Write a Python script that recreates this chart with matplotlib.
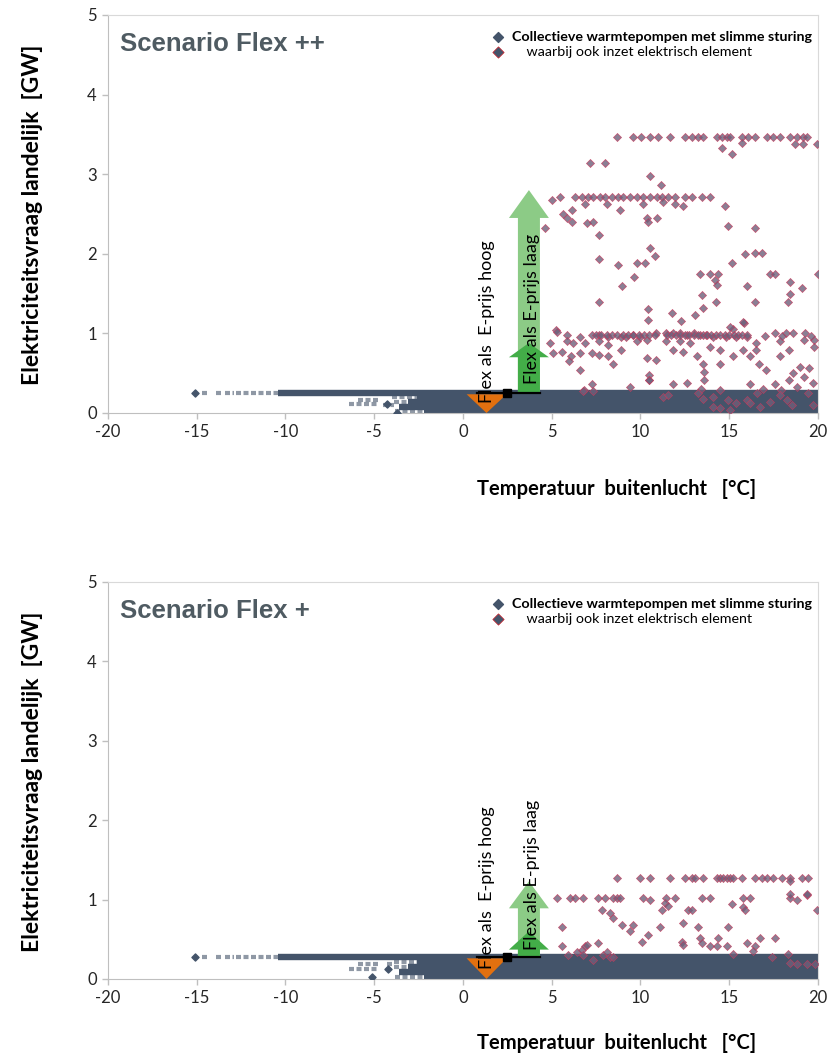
import matplotlib.pyplot as plt
import matplotlib.patches as mpatches
import numpy as np

plt.rcParams['font.family'] = ['Lato', 'DejaVu Sans']

BLUE = '#44546A'

# ---------------- data ----------------
# scenario Flex ++ : points where the electric element is also used
flexpp_red_x = [8.66, 9.58, 10.05, 10.53, 10.99, 11.66, 12.51, 12.88, 13.26, 13.54, 14.29, 14.57,
                14.86, 15.04, 15.70, 16.07, 16.45, 17.11, 17.48, 17.86, 18.42, 18.80, 19.17, 19.36,
                15.70, 18.70, 19.17, 19.93, 14.57, 15.14, 7.15, 8.0, 10.54, 11.14,
                5.0, 5.46, 6.31, 6.69, 7.06, 7.34, 7.72, 8.0, 8.38, 8.75, 9.03, 9.41, 9.79, 10.16,
                10.54, 10.92, 11.19, 11.57, 11.94, 12.51, 12.88, 13.45, 13.92,
                14.76, 6.87, 8.1, 10.16, 11.94, 11.28, 12.41, 8.85,
                5.65, 6.12, 5.85, 6.12, 4.62, 6.97, 7.34, 7.68, 10.35, 10.44, 10.91, 14.95, 16.45,
                10.54, 7.68, 8.75, 9.79, 10.25, 10.85, 9.65, 8.94, 7.68,
                15.14, 15.89, 16.45, 16.83, 13.35, 13.95, 14.38, 14.2, 14.29, 17.3, 17.58, 20.0,
                18.42, 15.98, 19.08, 13.48, 18.42, 18.33, 14.25, 16.45,
                13.54, 10.44, 10.44, 11.76, 13.07, 12.26, 15.83, 15.23, 5.24,
                4.9, 5.28, 5.84, 5.84, 5.56, 5.1, 6.2, 6.59, 6.1, 6.0, 6.59, 6.59, 6.9, 7.3, 7.65,
                7.65, 7.3, 7.65, 8.2, 8.2, 8.2, 8.47, 8.9, 8.9, 9.2, 9.6, 9.8, 10.0, 10.35, 10.35,
                10.5, 10.5, 10.9, 10.9, 11.47, 11.47, 11.85, 11.85, 12.23, 12.23, 12.4, 12.6, 12.8,
                13.0, 13.17, 13.36, 13.55, 13.6, 13.6, 13.7, 13.9, 14.1, 14.5, 14.5, 14.85, 15.04,
                15.2, 15.4, 15.8, 15.8, 15.98, 16.2, 16.5, 16.5, 16.7, 17.1, 17.6, 17.6, 17.86,
                17.86, 18.2, 18.4, 18.6, 18.6, 19.0, 19.2, 19.3, 19.5, 19.8, 19.8,
                7.5, 7.8, 8.1, 8.4, 8.7, 9.0, 9.3, 9.6, 9.9, 10.2, 10.5, 10.8,
                11.5, 11.75, 12.0, 12.25, 12.5, 12.75, 13.0, 13.25, 13.5, 13.75, 14.0, 14.25,
                14.5, 14.75, 15.0, 15.25, 15.5, 15.75, 16.0, 17.0, 18.0, 19.6,
                6.8, 7.3, 9.4, 10.5, 11.3, 11.85, 12.6, 13.4, 14.1, 14.5, 15.4, 16.2, 16.9, 17.9,
                18.4, 18.8, 19.2, 19.7,
                6.78, 7.34, 11.57, 13.26, 13.54, 14.1, 14.48, 14.95, 15.04, 15.98, 16.17, 16.55,
                16.73, 17.3, 17.86, 18.24, 18.52, 19.45, 19.74]
flexpp_red_y = [3.47, 3.47, 3.47, 3.47, 3.47, 3.47, 3.47, 3.47, 3.47, 3.47, 3.47, 3.47,
                3.47, 3.47, 3.47, 3.47, 3.47, 3.47, 3.47, 3.47, 3.47, 3.47, 3.47, 3.47,
                3.39, 3.38, 3.38, 3.38, 3.33, 3.25, 3.14, 3.14, 2.98, 2.86,
                2.68, 2.71, 2.71, 2.71, 2.71, 2.71, 2.71, 2.71, 2.71, 2.71, 2.71, 2.71, 2.71, 2.71,
                2.71, 2.71, 2.71, 2.71, 2.71, 2.71, 2.71, 2.71, 2.71,
                2.60, 2.63, 2.63, 2.63, 2.63, 2.65, 2.60, 2.55,
                2.50, 2.55, 2.45, 2.40, 2.32, 2.39, 2.40, 2.23, 2.45, 2.40, 2.45, 2.35, 2.33,
                2.07, 1.94, 1.86, 1.88, 1.88, 1.97, 1.71, 1.60, 1.40,
                1.88, 2.0, 2.01, 2.01, 1.74, 1.74, 1.74, 1.67, 1.61, 1.74, 1.74, 1.74,
                1.65, 1.60, 1.57, 1.48, 1.49, 1.40, 1.40, 1.40,
                1.32, 1.31, 1.17, 1.26, 1.23, 1.15, 1.13, 1.06, 1.04,
                0.875, 1.02, 0.98, 0.90, 0.77, 0.75, 0.875, 0.96, 0.71, 0.65, 0.75, 0.54, 0.875, 0.98, 0.98,
                0.90, 0.75, 0.73, 0.96, 0.86, 0.71, 0.62, 0.96, 0.79, 0.96, 0.98, 0.90, 0.96, 0.92, 0.69,
                0.48, 0.41, 1.0, 0.67, 1.0, 0.90, 1.0, 0.79, 1.0, 0.90, 0.77, 0.98, 0.875,
                1.0, 0.71, 0.98, 0.62, 0.52, 0.41, 0.98, 0.83, 0.96, 0.79, 0.62, 0.96, 1.08,
                0.71, 0.96, 1.14, 0.79, 0.96, 0.71, 0.875, 0.79, 0.62, 0.54, 1.0, 0.37, 0.90,
                0.71, 1.0, 0.79, 1.0, 0.50, 0.58, 0.92, 1.0, 0.56, 0.92, 0.83,
                0.98, 0.98, 0.98, 0.98, 0.98, 0.98, 0.98, 0.98, 0.98, 0.98, 0.98, 0.98,
                0.98, 0.98, 0.98, 0.98, 0.98, 0.98, 0.98, 0.98, 0.98, 0.98, 0.98, 0.98,
                0.98, 0.98, 0.98, 0.98, 0.98, 0.98, 0.98, 0.97, 0.97, 0.97,
                0.29, 0.36, 0.33, 0.41, 0.20, 0.37, 0.38, 0.30, 0.20, 0.29, 0.12, 0.37, 0.30, 0.29,
                0.41, 0.33, 0.45, 0.38,
                0.27, 0.27, 0.23, 0.25, 0.18, 0.08, 0.06, 0.16, 0.04, 0.16, 0.12, 0.25,
                0.08, 0.14, 0.23, 0.16, 0.10, 0.25, 0.10]

# scenario Flex + : points where the electric element is also used
flexp_red_x = [8.66, 9.97, 10.54, 11.66, 12.51, 12.88, 13.07, 13.54, 14.29, 14.48, 14.67, 14.86,
               15.04, 15.23, 15.70, 16.45, 16.83, 17.11, 17.48, 17.96, 18.42, 19.08, 19.45,
               5.28, 6.03, 6.31, 6.78, 7.62, 8.0, 8.47, 8.66, 8.85, 10.16, 11.47, 11.94, 13.45,
               13.92, 15.79, 16.17, 18.42, 19.36,
               18.42, 18.42, 18.8, 19.36, 19.93, 7.81, 8.28, 8.47, 8.94, 9.6, 9.41, 10.07, 10.44,
               10.54, 11.19, 11.38, 11.57, 11.1, 12.32, 12.41, 12.41, 12.7, 12.88, 13.26, 13.36,
               13.45, 13.92, 14.29, 14.38, 14.95, 14.86, 15.14, 15.23, 15.79, 15.89, 15.98, 16.45,
               16.36, 16.73, 17.58, 17.39, 18.33, 18.42, 18.8, 19.36, 19.83,
               5.56, 5.56, 5.94, 6.41, 6.69, 6.87, 6.97, 6.78, 7.34, 7.9, 8.1, 8.28, 8.47, 7.62]
flexp_red_y = [1.27, 1.27, 1.27, 1.27, 1.27, 1.27, 1.27, 1.27, 1.27, 1.27, 1.27, 1.27,
               1.27, 1.27, 1.27, 1.27, 1.27, 1.27, 1.27, 1.27, 1.27, 1.27, 1.27,
               1.02, 1.02, 1.02, 1.02, 1.02, 1.02, 1.02, 1.02, 1.02, 1.02, 1.02, 1.02, 1.02,
               1.02, 1.02, 1.02, 1.02, 1.06,
               1.23, 1.07, 0.99, 1.07, 0.87, 0.87, 0.83, 0.77, 0.68, 0.68, 0.60, 0.47, 0.55,
               1.0, 0.87, 0.96, 0.92, 0.66, 0.47, 0.43, 0.70, 0.87, 0.87, 0.66, 0.51,
               0.45, 0.41, 0.41, 0.51, 0.66, 0.41, 0.94, 0.32, 0.91, 0.87, 0.45, 0.41,
               0.35, 0.51, 0.51, 0.28, 0.32, 0.20, 0.19, 0.19, 0.19,
               0.66, 0.41, 0.30, 0.34, 0.36, 0.41, 0.43, 0.30, 0.24, 0.30, 0.34, 0.28, 0.28, 0.45]

# heat pump band: solid runs of overlapping markers (y, x start, x end)
flexpp_band_y = [0.255, 0.20, 0.14, 0.08, 0.03]
flexpp_band_x0 = [-10.4, -2.6, -3.1, -3.6, -2.2]
flexpp_band_x1 = [20.0, 20.0, 20.0, 20.0, 20.0]
flexpp_thin_y = [0.255, 0.255, 0.255, 0.255, 0.165, 0.11, 0.10, 0.20, 0.14, 0.03]
flexpp_thin_x0 = [-14.7, -13.9, -13.4, -12.8, -5.9, -6.4, -4.5, -4.0, -3.9, -3.8]
flexpp_thin_x1 = [-14.3, -13.6, -12.9, -10.4, -4.8, -4.8, -3.9, -2.6, -3.1, -2.2]
flexpp_dot_x = [-15.1, -4.3, -3.7]
flexpp_dot_y = [0.255, 0.11, 0.0]

flexp_band_y = [0.28, 0.215, 0.15, 0.09, 0.03]
flexp_band_x0 = [-10.4, -2.6, -3.1, -3.6, -2.2]
flexp_band_x1 = [20.0, 20.0, 20.0, 20.0, 20.0]
flexp_thin_y = [0.28, 0.28, 0.28, 0.28, 0.185, 0.12, 0.185, 0.215, 0.15, 0.03]
flexp_thin_x0 = [-14.7, -13.9, -13.4, -12.8, -5.9, -6.4, -4.3, -3.9, -3.9, -3.8]
flexp_thin_x1 = [-14.3, -13.6, -12.9, -10.4, -4.7, -4.7, -3.9, -2.6, -3.1, -2.2]
flexp_dot_x = [-15.1, -4.2, -5.1]
flexp_dot_y = [0.28, 0.12, 0.02]

x_ticks = [-20, -15, -10, -5, 0, 5, 10, 15, 20]
y_ticks = [0, 1, 2, 3, 4, 5]


def draw_panel(ax, title, red_x, red_y, band, thin, dots, arrows, top_line):
    # band of the heat pumps
    ax.hlines(thin[0], thin[1], thin[2], color=BLUE, lw=3.0, alpha=0.6,
              linestyles=(0, (1.2, 0.6)), zorder=2)
    ax.hlines(band[0], band[1], band[2], color=BLUE, lw=4.6, zorder=2)
    blue = ax.scatter(dots[0], dots[1], marker='D', s=13, color=BLUE, zorder=3,
                      label='Collectieve warmtepompen met slimme sturing')

    # annotation shapes
    y0 = top_line
    long_tip, long_head, short_tip, short_head = arrows
    ax.add_patch(mpatches.FancyArrow(3.72, y0, 0, long_tip - y0, width=1.24, head_width=2.25,
                                     head_length=long_head, length_includes_head=True,
                                     color='#8ccb86', lw=0, zorder=4))
    ax.add_patch(mpatches.FancyArrow(3.72, y0, 0, short_tip - y0, width=1.24, head_width=2.25,
                                     head_length=short_head, length_includes_head=True,
                                     color='#43ad48', lw=0, zorder=4))
    ax.add_patch(mpatches.Polygon([(0.21, y0 - 0.02), (2.46, y0 - 0.02), (1.33, 0.0)],
                                  closed=True, color='#e2700f', lw=0, zorder=4))
    ax.plot([0.8, 4.34], [y0, y0], color='k', lw=1.6, zorder=5)
    ax.plot([2.46], [y0], marker='s', ms=5.5, color='k', zorder=6)

    red = ax.scatter(red_x, red_y, marker='D', s=17, facecolor='#6e5f7a', edgecolor='#c8385a',
                     linewidths=0.5, alpha=0.8, zorder=5,
                     label='    waarbij ook inzet elektrisch element')

    ax.text(1.38, 0.13, 'Flex als  E-prijs hoog', rotation=90, ha='center', va='bottom',
            fontsize=13, color='k', zorder=7)
    ax.text(3.87, 0.37, 'Flex als E-prijs laag', rotation=90, ha='center', va='bottom',
            fontsize=13, color='k', zorder=7)

    ax.text(0.017, 0.957, title, transform=ax.transAxes, ha='left', va='top',
            fontsize=18.5, fontweight='bold', color='#4f5b62', family='Liberation Sans')

    leg = ax.legend(handles=[blue, red], loc='upper left', bbox_to_anchor=(0.525, 0.985),
                    frameon=False, fontsize=10.3, handletextpad=0.5, labelspacing=0.2,
                    borderpad=0.2, handlelength=1.0, markerscale=1.4)
    leg.get_texts()[0].set_fontweight('bold')
    leg.legend_handles[1].set_alpha(1)
    leg.legend_handles[1].set_facecolor(BLUE)
    leg.legend_handles[1].set_edgecolor('#d0202a')

    ax.set_xlim(-20, 20)
    ax.set_ylim(0, 5)
    ax.set_xticks(x_ticks)
    ax.set_yticks(y_ticks)
    ax.set_xticklabels([str(t) for t in x_ticks])
    ax.tick_params(direction='out', length=4, width=1, color='#bfbfbf', labelsize=12,
                   labelcolor='#262626', pad=4)
    for side in ['left', 'bottom']:
        ax.spines[side].set_color('#bfbfbf')
    for side in ['top', 'right']:
        ax.spines[side].set_color('#d9d9d9')
    ax.set_ylabel('Elektriciteitsvraag landelijk  [GW]', fontsize=16.5, fontweight='bold')
    ax.yaxis.set_label_coords(-0.0915, 0.497)
    ax.set_xlabel('Temperatuur  buitenlucht   [°C]', fontsize=14.5, fontweight='bold')


fig = plt.figure(figsize=(8.3, 10.53), dpi=100)
ax1 = fig.add_axes([0.130, 0.6078, 0.8554, 0.378])
ax2 = fig.add_axes([0.130, 0.0703, 0.8554, 0.377])

draw_panel(ax1, 'Scenario Flex ++', flexpp_red_x, flexpp_red_y,
           (flexpp_band_y, flexpp_band_x0, flexpp_band_x1),
           (flexpp_thin_y, flexpp_thin_x0, flexpp_thin_x1),
           (flexpp_dot_x, flexpp_dot_y), (2.80, 0.35, 0.88, 0.18), 0.255)
ax1.xaxis.set_label_coords(0.717, -0.165)

draw_panel(ax2, 'Scenario Flex +', flexp_red_x, flexp_red_y,
           (flexp_band_y, flexp_band_x0, flexp_band_x1),
           (flexp_thin_y, flexp_thin_x0, flexp_thin_x1),
           (flexp_dot_x, flexp_dot_y), (1.23, 0.34, 0.60, 0.23), 0.28)
ax2.xaxis.set_label_coords(0.717, -0.135)

fig.savefig('out.png', dpi=100)
